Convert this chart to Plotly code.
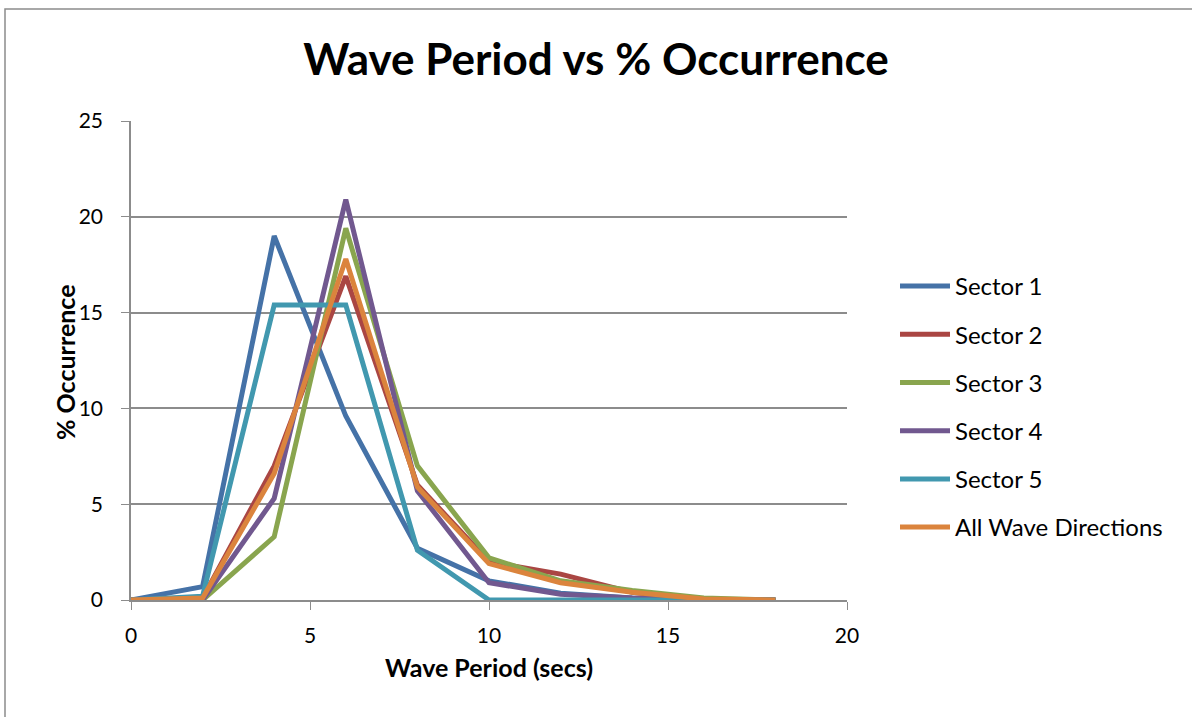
import plotly.graph_objects as go

periods = [0, 2, 4, 6, 8, 10, 12, 14, 16, 18]
sector1 = [0, 0.7, 19.0, 9.6, 2.7, 1.0, 0.35, 0.1, 0, 0]
sector2 = [0, 0.1, 7.0, 16.9, 6.0, 2.0, 1.35, 0.4, 0, 0]
sector3 = [0, 0.0, 3.3, 19.4, 7.0, 2.2, 1.0, 0.5, 0.1, 0]
sector4 = [0, 0.0, 5.3, 20.9, 5.7, 0.9, 0.3, 0.1, 0, 0]
sector5 = [0, 0.2, 15.4, 15.4, 2.6, 0, 0, 0, 0, 0]
all_dirs = [0, 0.1, 6.6, 17.8, 5.9, 1.9, 0.9, 0.4, 0.05, 0]

series_names = ["Sector 1", "Sector 2", "Sector 3", "Sector 4", "Sector 5", "All Wave Directions"]
series_values = [sector1, sector2, sector3, sector4, sector5, all_dirs]
colors = ["#4572A7", "#AA4643", "#89A54E", "#71588F", "#4198AF", "#DB843D"]

FONT = "Lato"

fig = go.Figure()
for name, vals, col in zip(series_names, series_values, colors):
    fig.add_trace(go.Scatter(
        x=periods, y=vals, mode="lines", name=name, legendgroup=name,
        line=dict(color=col, width=5),
    ))

L, R, T, B = 131, 1192 - 847, 121, 717 - 600
W, H = 1192, 717
pw, ph = W - L - R, H - T - B

fig.update_layout(
    width=W, height=H,
    margin=dict(l=L, r=R, t=T, b=B),
    paper_bgcolor="white", plot_bgcolor="white",
    font=dict(family=FONT, size=21, color="black"),
    title=dict(text="<b>Wave Period vs % Occurrence</b>", x=0.5, xanchor="center",
               y=1 - 60 / H, yanchor="middle", font=dict(size=44, family=FONT)),
    xaxis=dict(range=[0, 20], dtick=5, showgrid=False, showline=True, linecolor="#8c8c8c",
               linewidth=1.5, ticks="outside", ticklen=8, tickcolor="#8c8c8c", zeroline=False,
               ticklabelstandoff=8,
               title=dict(text="<b>Wave Period (secs)</b>", font=dict(size=25), standoff=14)),
    yaxis=dict(range=[0, 25], dtick=5, showgrid=True, gridcolor="#8c8c8c", gridwidth=1.5,
               showline=True, linecolor="#8c8c8c", linewidth=1.5, ticks="outside", ticklen=8,
               tickcolor="#8c8c8c", zeroline=False, ticklabelstandoff=14),
    legend=dict(x=(895 - L) / pw, xanchor="left", y=(600 - 407) / ph, yanchor="middle",
                font=dict(size=24), tracegroupgap=14, traceorder="grouped", itemwidth=50,
                bgcolor="rgba(0,0,0,0)"),
    showlegend=True,
)

fig.add_annotation(text="<b>% Occurrence</b>", textangle=-90, xref="paper", yref="paper",
                   x=(65 - L) / pw, y=(600 - 362) / ph, xanchor="center", yanchor="middle",
                   showarrow=False, font=dict(size=25, family=FONT, color="black"))

fig.add_shape(type="rect", xref="paper", yref="paper",
              x0=(5 - L) / pw, x1=(1200 - L) / pw, y0=(600 - 725) / ph, y1=(600 - 9) / ph,
              line=dict(color="#8c8c8c", width=1.5), fillcolor="rgba(0,0,0,0)", layer="below")

fig.write_html("out.html")
